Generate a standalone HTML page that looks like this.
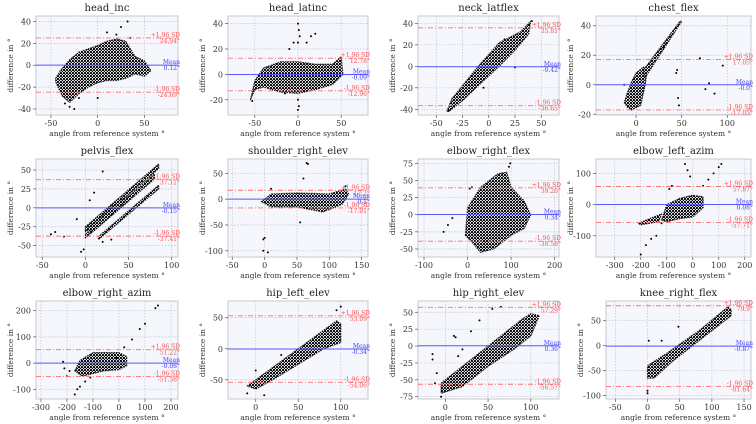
<!DOCTYPE html>
<html><head><meta charset="utf-8"><style>
body{margin:0;background:#fff;}
svg{display:block;font-family:"DejaVu Serif","Liberation Serif",serif;}
</style></head><body>
<svg id="fig" width="756" height="424" viewBox="0 0 756 424" xmlns="http://www.w3.org/2000/svg">
<defs>
<pattern id="speckle" width="3" height="3" patternUnits="userSpaceOnUse">
<rect width="3" height="3" fill="#f5f7fc"/>
<circle cx="1" cy="1" r="1.1" fill="#000"/>
<circle cx="2.5" cy="2.4" r="0.8" fill="#000"/>
</pattern>
</defs>
</svg>
<script>
// ---- data per panel ----
const names = ["head_inc","head_latinc","neck_latflex","chest_flex","pelvis_flex","shoulder_right_elev","elbow_right_flex","elbow_left_azim","elbow_right_azim","hip_left_elev","hip_right_elev","knee_right_flex"];
const means = [0.12,-0.09,-0.42,-0.0,-0.15,0.10,0.34,0.08,-0.08,-0.34,0.36,-0.87];
const upperSD = [24.94,12.78,35.81,17.05,37.11,17.20,39.26,57.87,51.22,53.09,57.29,79.90];
const lowerSD = [-24.69,-12.96,-36.65,-17.05,-37.41,-17.01,-38.58,-57.71,-51.38,-54.06,-56.57,-81.64];
const xlims = [[-66,86],[-81,81],[-67.4,66.9],[-44,126],[-57.3,107.3],[-56.6,159.8],[-113.8,210],[-372,224],[-319,227],[-32.6,132],[-32,133],[-64.5,160.8]];
const ylims = [[-45.5,45],[-32,46],[-45.3,46.8],[-20.5,46.6],[-65,64.5],[-112,77.7],[-61.7,81.3],[-168,146],[-137,237],[-81,77],[-78.4,66.7],[-106.6,89.4]];
const xticks = [[-50,0,50],[-50,0,50],[-50,-25,0,25,50],[0,50,100],[-50,0,50,100],[-50,0,50,100,150],[-100,0,100,200],[-300,-200,-100,0,100,200],[-300,-200,-100,0,100,200],[0,50,100],[0,50,100],[-50,0,50,100,150]];
const yticks = [[-40,-20,0,20,40],[-20,0,20,40],[-40,-20,0,20,40],[-20,0,20,40],[-50,-25,0,25,50],[-100,-50,0,50],[-50,-25,0,25,50,75],[-100,0,100],[-100,0,100,200],[-50,0,50],[-75,-50,-25,0,25,50],[-100,-50,0,50]];
const clouds = [
 [[[-45,-12],[-40,-5],[-30,5],[-20,12],[-10,15],[0,18],[10,22],[20,24],[30,22],[40,8],[50,4],[57,-5],[50,-10],[40,-8],[30,-12],[20,-14],[10,-14],[0,-16],[-10,-20],[-20,-26],[-30,-34],[-38,-28],[-45,-15]]],
 [[[-55,-20],[-50,-5],[-40,5],[-20,10],[0,10],[20,8],[40,8],[50,14],[52,0],[40,-8],[20,-12],[0,-15],[-20,-14],[-40,-10],[-50,-12]]],
 [[[-40,-42],[-35,-30],[-10,0],[10,22],[30,32],[40,42],[38,30],[25,15],[10,0],[-10,-18],[-25,-32],[-38,-42]]],
 [[[-10,-15],[-5,-17],[5,-14],[10,0],[12,10],[8,12],[0,8],[-5,2],[-10,-6],[-13,-12]],[[10,5],[50,43],[48,43],[8,10]]],
 [[[0,-25],[85,58],[85,52],[0,-32]],[[0,-35],[80,45],[80,38],[0,-40]],[[15,-38],[85,30],[85,25],[15,-42]],[[0,-30],[40,10],[50,15],[40,0],[10,-30]]],
 [[[-5,-5],[10,10],[50,12],[100,10],[125,20],[130,10],[120,-10],[90,-25],[50,-15],[10,-15]]],
 [[[-5,-30],[0,10],[30,40],[70,60],[90,62],[100,40],[130,20],[145,0],[130,-20],[100,-30],[60,-50],[30,-55],[10,-40]]],
 [[[-120,-50],[-100,0],[-50,20],[0,30],[40,25],[40,-10],[0,-40],[-50,-45],[-100,-55]],[[-210,-60],[-150,-40],[-120,-30],[-130,-55],[-200,-65]]],
 [[[-170,-30],[-150,10],[-100,40],[0,40],[30,25],[30,-10],[0,-25],[-60,-30],[-100,-40],[-140,-50]]],
 [[[-10,-60],[20,-30],[50,0],[80,30],[95,45],[100,40],[100,10],[80,0],[50,-25],[20,-50],[0,-65]]],
 [[[-5,-55],[50,0],[90,40],[100,48],[110,45],[100,15],[80,-5],[50,-30],[20,-60],[-5,-70]]],
 [[[0,-50],[0,-40],[30,-15],[80,30],[125,78],[130,72],[130,60],[80,10],[40,-30],[10,-65],[0,-65]]]
];
const outliers = [
 [[32,40],[25,35],[-25,-40],[-35,-35],[10,30],[35,25],[-20,-30],[0,-30],[20,28],[-30,-38]],
 [[0,40],[1,35],[2,30],[0,25],[0,-20],[1,-25],[0,-28],[-10,20],[-5,25],[15,30],[20,32],[10,25],[-15,-15],[-53,-21]],
 [[25,-1],[-5,-20],[15,25],[-38,-41],[41,42]],
 [[-13,0],[45,10],[44,8],[46,-9],[70,18],[95,13],[80,1],[76,-3],[86,-6],[47,-14],[30,25],[33,28]],
 [[-40,-35],[-35,-32],[-25,-38],[-5,-58],[-2,-55],[20,48],[10,20],[5,10],[-10,-15],[30,-42],[20,-45]],
 [[65,70],[67,68],[60,40],[55,-45],[0,-75],[-2,-78],[-2,-100],[5,-103],[10,20],[125,25]],
 [[-55,-25],[-45,-15],[-35,-5],[98,75],[95,70],[10,40],[80,60],[5,38]],
 [[-200,-160],[-180,-130],[-160,-110],[-140,-100],[-120,-60],[-30,130],[-20,110],[-10,90],[40,60],[60,80],[80,100],[100,120],[110,130],[-80,60],[-90,50]],
 [[150,220],[140,210],[100,150],[80,130],[50,90],[20,60],[-10,20],[-150,-90],[-170,-120],[-160,-100],[-130,-70],[-110,-55],[-215,5],[-210,-20],[-200,-50],[-190,-30]],
 [[100,68],[95,62],[-10,-72],[10,-75],[0,-35],[30,-10]],
 [[-15,-20],[-15,-12],[-10,-40],[-12,-55],[10,15],[12,13],[40,38],[55,55],[65,58],[-5,-75],[30,22],[20,-5],[15,-15]],
 [[2,10],[22,10],[48,38],[0,-90],[0,-95]]
];
// ---- layout ----
const colX = [[36,178],[228,368],[418,559],[596,751]];
const rowY = [[16,115],[159,257],[301,399]];
const NS = "http://www.w3.org/2000/svg";
const svg = document.getElementById('fig');
function mk(tag, attrs, parent, txt){const e=document.createElementNS(NS,tag);for(const k in attrs)e.setAttribute(k,attrs[k]);if(txt!==undefined)e.textContent=txt;(parent||svg).appendChild(e);return e;}
function fmt(v){return (Math.round(v*100)/100).toString();}
for(let i=0;i<12;i++){
  const r=Math.floor(i/4), c=i%4;
  let [x0,x1]=colX[c]; const [y0,y1]=rowY[r];
  if(r===2&&c===3) x0=606;
  const g=mk('g',{});
  
  
  const xl=xlims[i], yl=ylims[i];
  const sx=v=>x0+(v-xl[0])/(xl[1]-xl[0])*(x1-x0);
  const sy=v=>y1-(v-yl[0])/(yl[1]-yl[0])*(y1-y0);
  const bg=mk('rect',{x:x0,y:y0,width:x1-x0,height:y1-y0,fill:'#f5f7fc',stroke:'#c8c8d0','stroke-width':1},g);
  
  
  xticks[i].forEach(t=>{const X=sx(t);
    mk('line',{x1:X,x2:X,y1:y0,y2:y1,stroke:'#c4c4cc','stroke-width':0.7,'stroke-dasharray':'1.5,1.5'},g);
    mk('line',{x1:X,x2:X,y1:y1,y2:y1+3,stroke:'#555','stroke-width':0.7},g);
    const tl=mk('text',{x:X,y:y1+11,'font-size':8,'text-anchor':'middle',fill:'#333'},g,t);
    
    
  });
  yticks[i].forEach(t=>{const Y=sy(t);
    mk('line',{x1:x0,x2:x1,y1:Y,y2:Y,stroke:'#c4c4cc','stroke-width':0.7,'stroke-dasharray':'1.5,1.5'},g);
    mk('line',{x1:x0-3,x2:x0,y1:Y,y2:Y,stroke:'#555','stroke-width':0.7},g);
    const tl=mk('text',{x:x0-5,y:Y+3,'font-size':8,'text-anchor':'end',fill:'#333'},g,t);
    
    
  });
  clouds[i].forEach(poly=>{
    const p=mk('polygon',{points:poly.map(q=>sx(q[0])+','+sy(q[1])).join(' '),fill:'url(#speckle)',stroke:'#000','stroke-opacity':0.8,'stroke-width':1.2,'stroke-dasharray':'1.5,1','stroke-linejoin':'round'},g);
    
    
  });
  outliers[i].forEach(q=>{
    const d=mk('circle',{cx:sx(q[0]),cy:sy(q[1]),r:1,fill:'#000'},g);
    
    
  });
  const ml=mk('line',{x1:x0,x2:x1,y1:sy(means[i]),y2:sy(means[i]),stroke:'#5a5aff','stroke-width':1},g);
  
  
  [[upperSD[i],'+1.96 SD'],[lowerSD[i],'-1.96 SD']].forEach(([v,lab])=>{
    const Y=sy(v);
    const l=mk('line',{x1:x0,x2:x1,y1:Y,y2:Y,stroke:'#ff7070','stroke-width':0.9,'stroke-dasharray':'5,2,1,2'},g);
    
    
    const t1=mk('text',{x:x1+2,y:Y-1,'font-size':6,'text-anchor':'end',fill:'#ff5050'},g,lab);
    
    
    const t2=mk('text',{x:x1+2,y:Y+5,'font-size':6,'text-anchor':'end',fill:'#ff5050'},g,fmt(v)+'°');
    
    
  });
  const Ym=sy(means[i]);
  const m1=mk('text',{x:x1+2,y:Ym-1,'font-size':6,'text-anchor':'end',fill:'#4040ff'},g,'Mean');
  
  
  const m2=mk('text',{x:x1+2,y:Ym+5,'font-size':6,'text-anchor':'end',fill:'#4040ff'},g,(means[i]===0?'-0.0':fmt(means[i]))+'°');
  
  
  const ti=mk('text',{x:(x0+x1)/2,y:y0-5,'font-size':10,'text-anchor':'middle',fill:'#222'},g,names[i]);
  
  
  const xlab=mk('text',{x:(x0+x1)/2,y:y1+21,'font-size':7.5,'text-anchor':'middle',fill:'#333'},g,'angle from reference system °');
  
  
  const yx=x0-23;
  const ylab=mk('text',{x:0,y:0,'font-size':7.5,'text-anchor':'middle',fill:'#333',transform:`translate(${yx},${(y0+y1)/2}) rotate(-90)`},g,'difference in °');
  
  
}
</script>
</body></html>
